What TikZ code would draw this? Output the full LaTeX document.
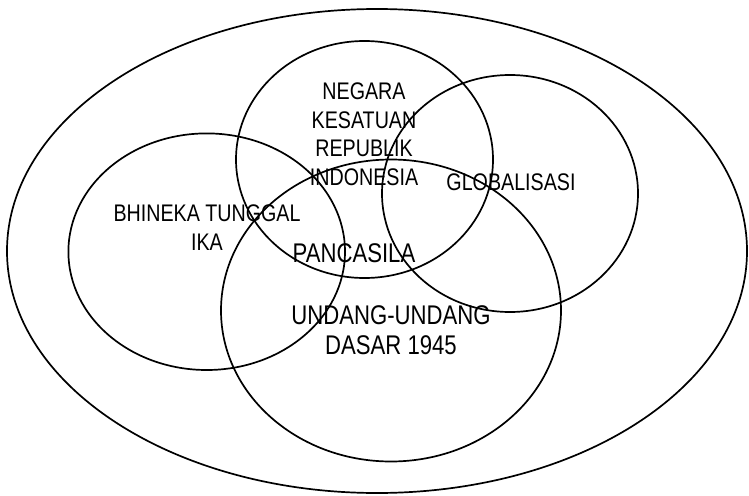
\documentclass[tikz,border=0pt]{standalone}
\usepackage{fontspec}
\setmainfont[FakeStretch=0.82]{Liberation Sans}
\usetikzlibrary{positioning}
\tikzset{
  ring/.style={draw=black, line width=1.7pt},
  lbl/.style={align=center, inner sep=0pt, font=\fontsize{24}{28.5}\selectfont},
  biglbl/.style={lbl, font=\fontsize{27}{30}\selectfont}
}

\begin{document}
\begin{tikzpicture}[x=1pt, y=-1pt]
\useasboundingbox (0,0) rectangle (749,495);
\draw[ring] (377,251) ellipse [x radius=370, y radius=242];
\draw[ring] (364.5,159.5) ellipse [x radius=128.5, y radius=118.5];
\draw[ring] (510,193.5) ellipse [x radius=128, y radius=118.5];
\draw[ring] (206.7,251.7) ellipse [x radius=138.3, y radius=118.3];
\draw[ring] (391,310.5) ellipse [x radius=170, y radius=151];
\node[lbl] (nkri) at (364,134) {NEGARA\\KESATUAN\\REPUBLIK\\INDONESIA};
\node[lbl] (glob) at (511,182.5) {GLOBALISASI};
\node[lbl] (bti) at (207,227.5) {BHINEKA TUNGGAL\\IKA};
\node[biglbl] (pancasila) at (354,253) {PANCASILA};
\node[biglbl] (uud) at (391,330) {UNDANG-UNDANG\\DASAR 1945};
\end{tikzpicture}
\end{document}
